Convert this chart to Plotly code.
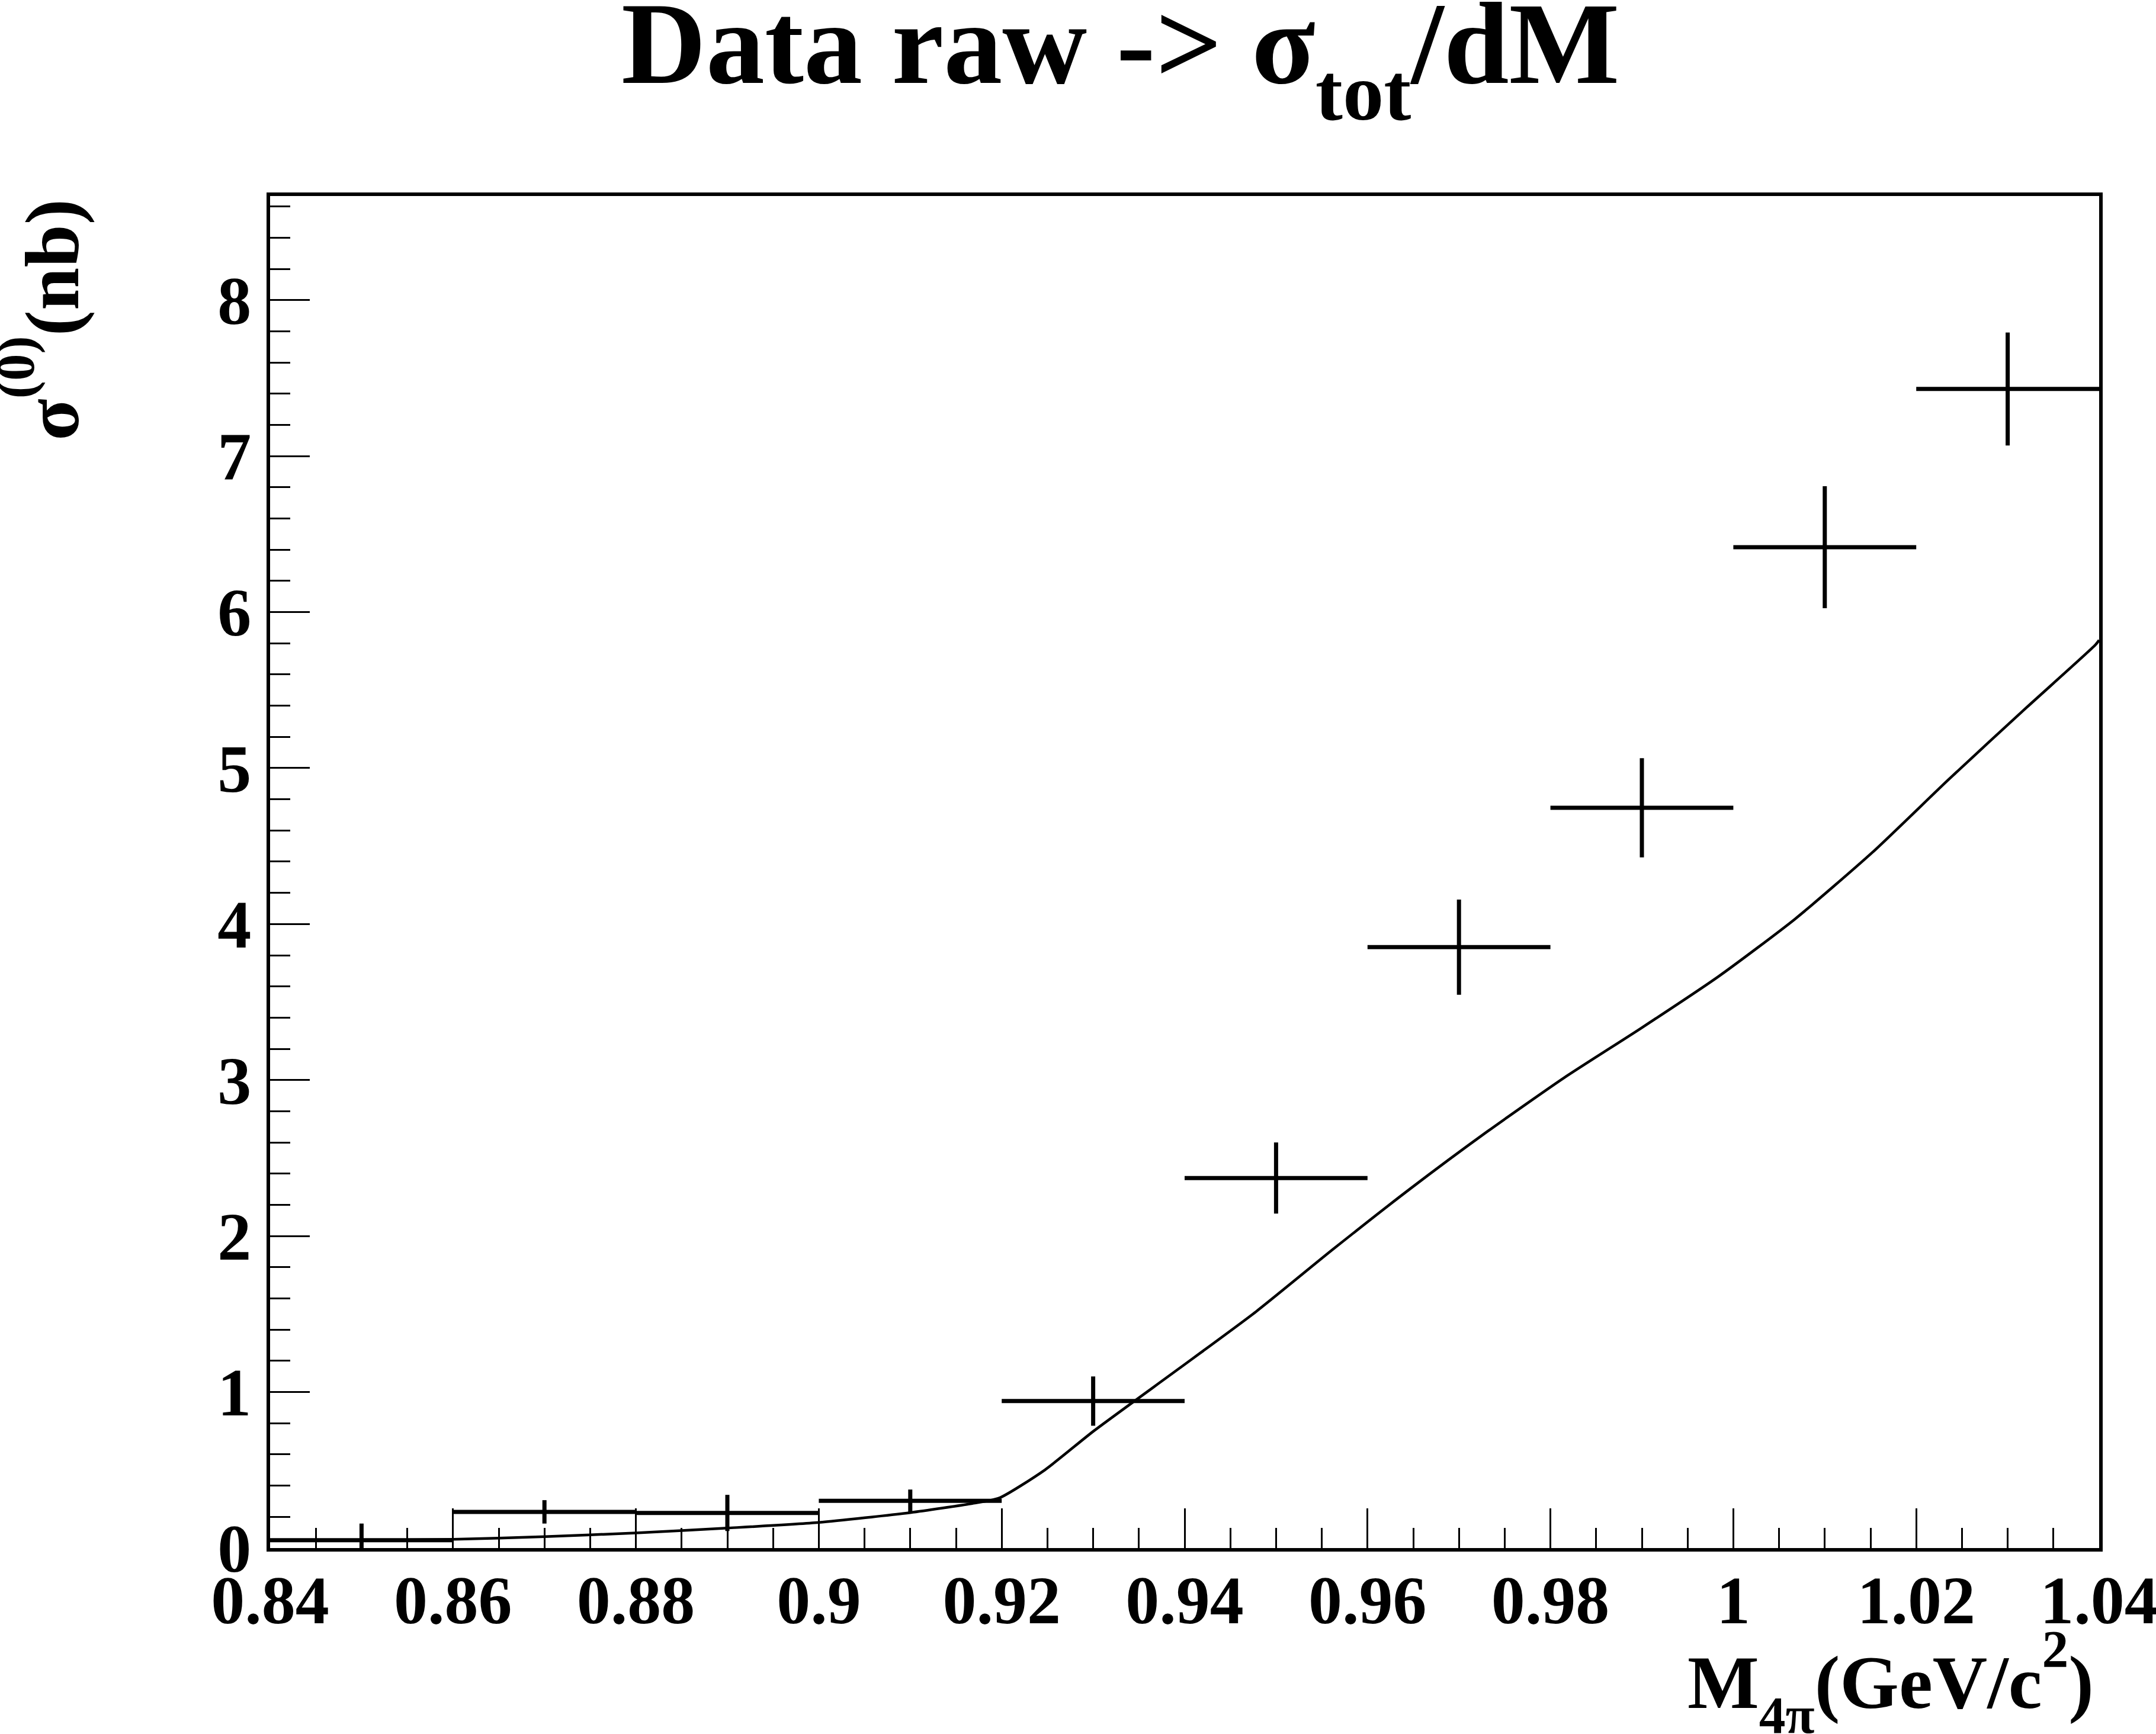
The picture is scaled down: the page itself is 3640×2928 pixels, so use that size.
import plotly.graph_objects as go

# ---- data ----
bin_centers = [0.85, 0.87, 0.89, 0.91, 0.93, 0.95, 0.97, 0.99, 1.01, 1.03]
bin_half_width = [0.01, 0.01, 0.01, 0.01, 0.01, 0.01, 0.01, 0.01, 0.01, 0.01]
sigma = [0.05, 0.232, 0.225, 0.303, 0.942, 2.372, 3.852, 4.745, 6.416, 7.43]
sigma_err = [0.107, 0.075, 0.116, 0.072, 0.158, 0.228, 0.305, 0.318, 0.391, 0.362]

fit_mass = [0.84, 0.85, 0.86, 0.87, 0.88, 0.89, 0.90, 0.91, 0.9167, 0.9197, 0.9247,
            0.9301, 0.9394, 0.9478, 0.9562, 0.9646, 0.9731, 0.9815, 0.9899, 0.9984,
            1.0068, 1.0152, 1.0236, 1.0321, 1.0396, 1.04]
fit_sigma = [0.048, 0.05, 0.056, 0.073, 0.097, 0.128, 0.164, 0.227, 0.285, 0.32, 0.50,
             0.752, 1.151, 1.515, 1.914, 2.300, 2.670, 3.015, 3.332, 3.665,
             4.035, 4.459, 4.930, 5.390, 5.790, 5.82]

x_ticks = [0.84, 0.86, 0.88, 0.90, 0.92, 0.94, 0.96, 0.98, 1.00, 1.02, 1.04]
x_tick_text = ["0.84", "0.86", "0.88", "0.9", "0.92", "0.94", "0.96", "0.98", "1", "1.02", "1.04"]
y_ticks = [0, 1, 2, 3, 4, 5, 6, 7, 8]
y_tick_text = ["0", "1", "2", "3", "4", "5", "6", "7", "8"]

FONT = "Liberation Serif"
W, H = 3640, 2928
L, R, T, B = 456, 96, 331, 314
PW, PH = W - L - R, H - T - B


def px(xp):
    return (xp - L) / PW


def py(yp):
    return (H - B - yp) / PH


fig = go.Figure()

fig.add_trace(go.Scatter(
    x=fit_mass, y=fit_sigma, mode="lines",
    line=dict(color="black", width=4.5, shape="spline", smoothing=0.6),
    showlegend=False, hoverinfo="skip",
))

fig.add_trace(go.Scatter(
    x=bin_centers, y=sigma, mode="markers",
    marker=dict(size=0, color="black"),
    error_y=dict(type="data", array=sigma_err, symmetric=True,
                 thickness=7, width=0, color="black"),
    error_x=dict(type="data", array=bin_half_width, symmetric=True,
                 thickness=7, width=0, color="black"),
    showlegend=False,
))

axis_common = dict(
    showline=True, linecolor="black", linewidth=6, mirror=True,
    ticks="inside", ticklen=67, tickwidth=3, tickcolor="black",
    showgrid=False, zeroline=False, ticklabeloverflow="allow", automargin=False,
    tickfont=dict(family=FONT, size=114, color="black", weight="bold"),
)

fig.update_xaxes(
    range=[0.84, 1.04], tickvals=x_ticks, ticktext=x_tick_text,
    minor=dict(dtick=0.005, ticklen=34, tickwidth=3, ticks="inside", tickcolor="black"),
    ticklabelstandoff=-16,
    **axis_common,
)
fig.update_yaxes(
    range=[0, 8.667], tickvals=y_ticks, ticktext=y_tick_text,
    minor=dict(dtick=0.2, ticklen=34, tickwidth=3, ticks="inside", tickcolor="black"),
    ticklabelstandoff=3,
    **axis_common,
)

fig.add_annotation(
    text='Data raw -> σ<sub><span style="baseline-shift:-20px">tot</span></sub>/dM',
    xref="paper", yref="paper", x=px(1891), y=py(-38),
    xanchor="center", yanchor="top", showarrow=False,
    font=dict(family=FONT, size=198, color="black", weight="bold"),
)
fig.add_annotation(
    text='M<sub><span style="baseline-shift:-15px">4π</span></sub>(GeV/c'
         '<sup><span style="baseline-shift:16px">2</span></sup>)',
    xref="paper", yref="paper", x=px(3537), y=py(2732),
    xanchor="right", yanchor="top", showarrow=False,
    font=dict(family=FONT, size=128, color="black", weight="bold"),
)
fig.add_annotation(
    text='σ<sup><span style="baseline-shift:20px">(0)</span></sup>(nb)',
    xref="paper", yref="paper", x=px(162), y=py(540),
    xanchor="right", yanchor="middle", showarrow=False, textangle=-90,
    font=dict(family=FONT, size=130, color="black", weight="bold"),
)

fig.update_layout(
    width=W, height=H,
    margin=dict(l=L, r=R, t=T, b=B, pad=0, autoexpand=False),
    paper_bgcolor="white", plot_bgcolor="white",
    showlegend=False,
)

fig.write_html("out.html")
